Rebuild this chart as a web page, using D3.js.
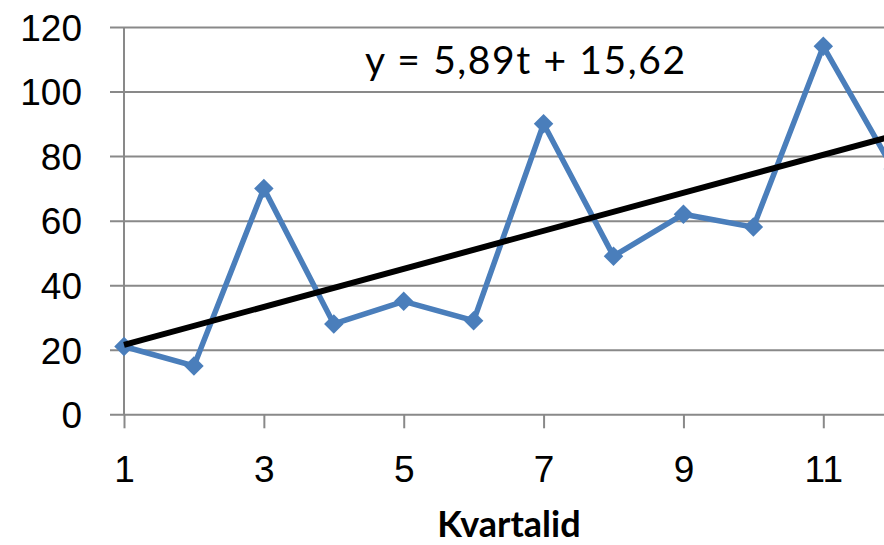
<!DOCTYPE html>
<html>
<head>
<meta charset="utf-8">
<script src="https://cdn.jsdelivr.net/npm/d3@7/dist/d3.min.js"></script>
<style>
  html, body { margin: 0; padding: 0; background: #fff; }
  svg { display: block; font-family: Lato, "Liberation Sans", sans-serif; }
</style>
</head>
<body>
<svg id="chart" width="884" height="545"></svg>
<script>
// Quarterly series and its linear trend
const quarters = [1, 2, 3, 4, 5, 6, 7, 8, 9, 10, 11, 12];
const values   = [21, 15, 70, 28, 35, 29, 90, 49, 62, 58, 114, 76];
const trendSlope = 5.89;
const trendIntercept = 15.62;
const yTicks = [0, 20, 40, 60, 80, 100, 120];
const xTicks = [1, 3, 5, 7, 9, 11];
const xTitle = "Kvartalid";
const equationLabel = "y = 5,89t + 15,62";

const svg = d3.select("#chart");
const W = 884, H = 545;

const x = d3.scaleLinear().domain([1, 12]).range([124, 124 + 11 * 69.93]);
const y = d3.scaleLinear().domain([0, 120]).range([414.3, 27]);

const gridColor = "#898989";
const blue = "#4a7ebb";

// horizontal gridlines with their outer ticks
const yAxis = d3.axisLeft(y).tickValues(yTicks).tickSize(-(W - 110)).tickSizeOuter(0);
const gy = svg.append("g").attr("transform", "translate(110,0)").call(yAxis);
gy.select(".domain").remove();
gy.selectAll(".tick line").attr("stroke", gridColor).attr("stroke-width", 2);
gy.selectAll(".tick text")
  .attr("font-size", 37).attr("fill", "#000")
  .attr("x", 82 - 110).attr("dy", "0.36em");

// vertical axis line
svg.append("line")
  .attr("x1", x(1)).attr("x2", x(1))
  .attr("y1", y(120)).attr("y2", y(0))
  .attr("stroke", gridColor).attr("stroke-width", 2);

// bottom axis ticks and labels
const xAxis = d3.axisBottom(x).tickValues(xTicks).tickSize(14).tickSizeOuter(0).tickPadding(27);
const gx = svg.append("g").attr("transform", `translate(0,${y(0)})`).call(xAxis);
gx.select(".domain").remove();
gx.selectAll(".tick line").attr("stroke", gridColor).attr("stroke-width", 2);
gx.selectAll(".tick text").attr("font-size", 37).attr("fill", "#000");

// series line
const line = d3.line().x((d, i) => x(quarters[i])).y(d => y(d));
svg.append("path")
  .datum(values)
  .attr("d", line)
  .attr("fill", "none")
  .attr("stroke", blue)
  .attr("stroke-width", 5.5)
  .attr("stroke-linejoin", "miter");

// diamond markers
const diamond = d3.symbol().type(d3.symbolSquare).size(190);
svg.append("g").selectAll("path")
  .data(values)
  .join("path")
  .attr("d", diamond)
  .attr("transform", (d, i) => `translate(${x(quarters[i])},${y(d)}) rotate(45)`)
  .attr("fill", blue);

// trend line
const tStart = quarters[0], tEnd = quarters[quarters.length - 1];
svg.append("line")
  .attr("x1", x(tStart)).attr("y1", y(trendSlope * tStart + trendIntercept))
  .attr("x2", x(tEnd)).attr("y2", y(trendSlope * tEnd + trendIntercept))
  .attr("stroke", "#000")
  .attr("stroke-width", 6);

// trend equation
svg.append("text")
  .attr("x", 365).attr("y", 73.5)
  .attr("font-size", 39)
  .attr("fill", "#000")
  .attr("textLength", 320)
  .attr("lengthAdjust", "spacing")
  .text(equationLabel);

// axis title
svg.append("text")
  .attr("x", 509).attr("y", 537)
  .attr("text-anchor", "middle")
  .attr("font-size", 36)
  .attr("font-weight", "bold")
  .attr("fill", "#000")
  .text(xTitle);
</script>
</body>
</html>
